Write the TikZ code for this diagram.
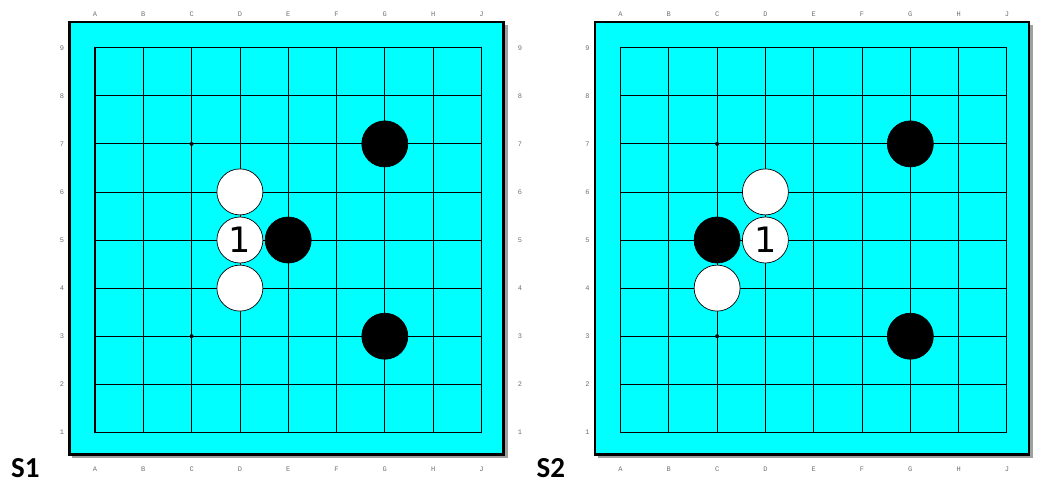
\documentclass[tikz,border=0pt]{standalone}
\usepackage{fontspec}
\newfontfamily\labfont{Liberation Mono}
\newfontfamily\numfont{DejaVu Sans}
\newfontfamily\capfont{Carlito}
\definecolor{boardcyan}{HTML}{00FFFF}
\definecolor{labgray}{HTML}{707070}
\definecolor{shadowgray}{HTML}{A0A0A0}
\tikzset{
  coordlab/.style={font=\labfont\fontsize{7}{7}\selectfont, text=labgray, inner sep=0pt},
  gridline/.style={line width=0.8pt, black},
  gridedge/.style={line width=1.1pt, black},
  wstone/.style={circle, draw=black, line width=0.7pt, fill=white, minimum size=46pt, inner sep=0pt, font=\numfont\fontsize{35}{35}\selectfont},
  bstone/.style={circle, draw=black, line width=0.7pt, fill=black, minimum size=46pt, inner sep=0pt},
  hoshi/.style={circle, fill=black, minimum size=4pt, inner sep=0pt},
  boardtitle/.style={font=\capfont\bfseries\fontsize{29}{29}\selectfont, inner sep=0pt}
}
\newcommand{\drawgoboard}[2]{%
  \begin{scope}[xshift=#2pt]
    \fill[shadowgray] (72,25) rectangle (507.5,458);
    \filldraw[fill=boardcyan, draw=black, line width=2.4pt] (69.5,22) rectangle (503.5,454.5);
    \foreach \r in {2,...,8} {
      \draw[gridline] (95,{47.7+48.075*(9-\r)}) -- (481.4,{47.7+48.075*(9-\r)});
    }
    \foreach \i in {1,...,7} {
      \draw[gridline] ({95+48.3*\i},47.7) -- ({95+48.3*\i},432.3);
    }
    \draw[gridedge] (95,47.7) rectangle (481.4,432.3);
    \foreach \i/\l in {0/A,1/B,2/C,3/D,4/E,5/F,6/G,7/H,8/J} {
      \node[coordlab] (#1top\l) at ({95+48.3*\i},14.5) {\l};
      \node[coordlab] (#1bot\l) at ({95+48.3*\i},469.5) {\l};
    }
    \foreach \r in {1,...,9} {
      \node[coordlab] (#1left\r) at (62,{47.7+48.075*(9-\r)}) {\r};
    }
    \node[hoshi] (#1hoshiC7) at (191.6,143.9) {};
    \node[hoshi] (#1hoshiC3) at (191.6,336.2) {};
  \end{scope}%
}
\begin{document}
\begin{tikzpicture}[x=1pt,y=-1pt]
\useasboundingbox (0,0) rectangle (1040,480);
\drawgoboard{ba}{0}
\drawgoboard{bb}{525.5}
% right-hand row numbers of board S1 (those of S2 fall outside the picture)
\foreach \r in {1,...,9} {
  \node[coordlab] (baright\r) at (520,{47.7+48.075*(9-\r)}) {\r};
}
% board S1
\node[bstone] (baG7) at (384.8,143.9) {};
\node[bstone] (baG3) at (384.8,336.2) {};
\node[wstone] (baD6) at (239.9,191.9) {};
\node[wstone] (baD4) at (239.9,288.1) {};
\node[wstone] (baD5) at (239.9,240.0) {1};
\node[bstone] (baE5) at (288.2,240.0) {};
% board S2
\node[bstone] (bbG7) at (910.3,143.9) {};
\node[bstone] (bbG3) at (910.3,336.2) {};
\node[wstone] (bbD6) at (765.4,191.9) {};
\node[wstone] (bbC4) at (717.1,288.1) {};
\node[bstone] (bbC5) at (717.1,240.0) {};
\node[wstone] (bbD5) at (765.4,240.0) {1};
% titles
\node[boardtitle, anchor=base west] (titleS1) at (11,477) {S1};
\node[boardtitle, anchor=base west] (titleS2) at (536.5,477) {S2};
\end{tikzpicture}
\end{document}
